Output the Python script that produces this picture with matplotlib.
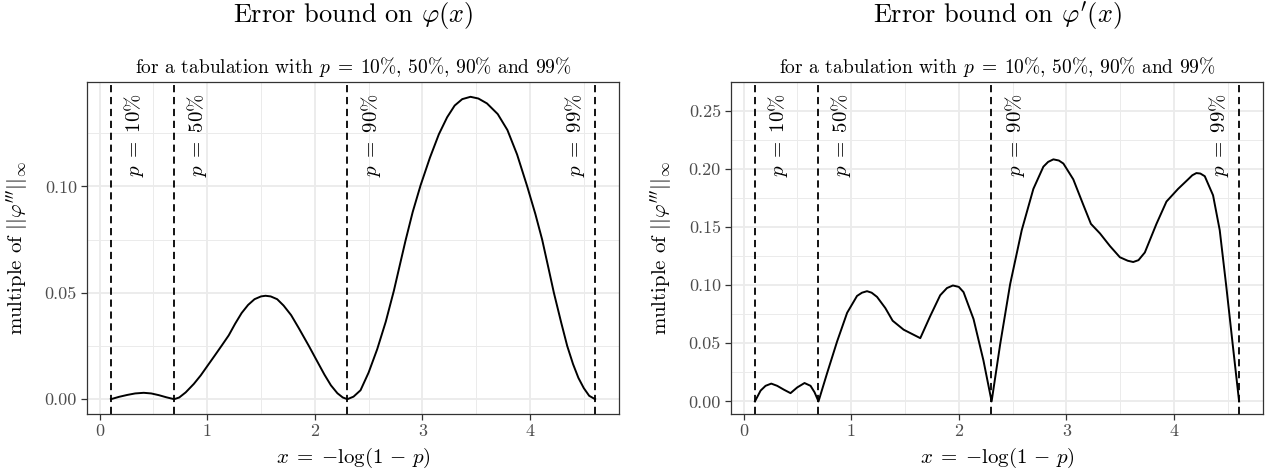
import matplotlib
matplotlib.use('Agg')
import matplotlib.pyplot as plt

# フォント (Computer Modern 風)
plt.rcParams['font.family'] = ['cmr10', 'DejaVu Serif']
plt.rcParams['mathtext.fontset'] = 'cm'
plt.rcParams['axes.formatter.use_mathtext'] = True

# 表の節点 p = 10%, 50%, 90%, 99%  ->  x = -log(1-p)
node_x = [0.105, 0.693, 2.303, 4.605]
node_labels = [r'$p\;=\;10\%$', r'$p\;=\;50\%$', r'$p\;=\;90\%$', r'$p\;=\;99\%$']

# 左: phi(x) の誤差上界
x_phi = [0.105, 0.18, 0.257, 0.33, 0.41, 0.48, 0.55, 0.62, 0.693,
         0.74, 0.80, 0.876, 0.94, 1.0, 1.07, 1.139, 1.20, 1.26, 1.32, 1.38, 1.44, 1.50,
         1.542, 1.59, 1.65, 1.71, 1.78, 1.85, 1.945, 2.02, 2.09, 2.15, 2.21, 2.26, 2.303,
         2.36, 2.425, 2.50, 2.58, 2.66, 2.735, 2.79, 2.843, 2.91, 2.983, 3.07, 3.153,
         3.23, 3.30, 3.37, 3.447, 3.52, 3.60, 3.70, 3.79, 3.88, 3.974, 4.05, 4.113,
         4.17, 4.222, 4.29, 4.346, 4.40, 4.45, 4.50, 4.55, 4.605]
y_phi = [0, 0.0011, 0.0020, 0.0027, 0.0030, 0.0027, 0.0019, 0.0009, 0,
         0.0008, 0.0032, 0.0072, 0.0112, 0.0155, 0.0205, 0.0255, 0.0300, 0.0355, 0.0405,
         0.0443, 0.0470, 0.0483,
         0.0486, 0.0483, 0.0470, 0.0440, 0.0395, 0.0335, 0.0250, 0.0180, 0.0115, 0.0065,
         0.0028, 0.0008, 0,
         0.0012, 0.0042, 0.0125, 0.0235, 0.0365, 0.0510, 0.0630, 0.0745, 0.0880, 0.1005,
         0.1135, 0.1245,
         0.1325, 0.1380, 0.1410, 0.1421, 0.1413, 0.1390, 0.1340, 0.1265, 0.1150, 0.1000,
         0.0870, 0.0750,
         0.0620, 0.0500, 0.0360, 0.0250, 0.0165, 0.0100, 0.0052, 0.0016, 0]

# 右: phi'(x) の誤差上界
x_dphi = [0.105, 0.158, 0.204, 0.257, 0.312, 0.374, 0.436, 0.498, 0.566, 0.622, 0.659, 0.696,
          0.776, 0.869, 0.962, 1.054, 1.10, 1.147, 1.19, 1.24, 1.317, 1.385, 1.487, 1.642,
          1.735, 1.827, 1.89, 1.945, 2.0, 2.044, 2.137, 2.229, 2.305,
          2.384, 2.477, 2.585, 2.693, 2.786, 2.83, 2.879, 2.93, 2.972, 3.064, 3.157, 3.228,
          3.312, 3.405, 3.497, 3.57, 3.621, 3.67, 3.729, 3.837, 3.93, 4.038, 4.131, 4.17,
          4.208, 4.245, 4.286, 4.363, 4.425, 4.487, 4.549, 4.605]
y_dphi = [0, 0.0093, 0.0134, 0.0153, 0.0134, 0.0101, 0.0071, 0.0120, 0.0158, 0.0134, 0.0079, 0,
          0.0243, 0.0516, 0.0762, 0.0907, 0.0935, 0.0948, 0.0935, 0.0899, 0.0803, 0.0694,
          0.0617, 0.0544,
          0.0735, 0.0913, 0.0975, 0.0997, 0.0985, 0.0940, 0.0708, 0.0352, 0,
          0.0489, 0.1008, 0.1473, 0.1828, 0.2019, 0.2060, 0.2082, 0.2072, 0.2046, 0.1910,
          0.1691, 0.1527,
          0.1445, 0.1336, 0.1240, 0.1210, 0.1199, 0.1215, 0.1281, 0.1527, 0.1719, 0.1828,
          0.1910, 0.1945,
          0.1964, 0.1960, 0.1937, 0.1773, 0.1473, 0.0981, 0.0462, 0]

titles = [r'Error bound on $\varphi(x)$', r"Error bound on $\varphi'(x)$"]
subtitle = r'for a tabulation with $p\;=\;10\%$, 50%, 90% and 99%'
xlabel = r'$x\;=\;{-}\log(1\,-\,p)$'
ylabel = r"multiple of $||\varphi'''||_\infty$"
x_ticks = [0, 1, 2, 3, 4]
y_ticks_left = [0.00, 0.05, 0.10]
y_ticks_right = [0.00, 0.05, 0.10, 0.15, 0.20, 0.25]

W, H = 1265, 471
fig = plt.figure(figsize=(W / 100, H / 100), dpi=100)


def draw_panel(left, right, x, y, yticks, ylim, title):
    top, bottom = 81.7, 414.3
    ax = fig.add_axes([left / W, 1 - bottom / H, (right - left) / W, (bottom - top) / H])
    ax.set_axisbelow(True)
    ax.plot(x, y, color='black', lw=1.4, zorder=3)
    for i, (xv, lab) in enumerate(zip(node_x, node_labels)):
        ax.axvline(xv, color='black', lw=1.3, ls=(0, (4, 2.6)), zorder=2)
        last = i == len(node_x) - 1
        ax.annotate(lab, xy=(xv, 1), xycoords=('data', 'axes fraction'),
                    xytext=(-6 if last else 8, -8), textcoords='offset points',
                    rotation=90, ha='right' if last else 'left', va='top',
                    fontsize=15, zorder=4)
    ax.set_xlim(0.105 - 0.225, 4.605 + 0.225)
    ax.set_ylim(*ylim)
    ax.set_xticks(x_ticks, [str(t) for t in x_ticks])
    ax.set_xticks([0.5, 1.5, 2.5, 3.5, 4.5], minor=True)
    ax.set_yticks(yticks, ['%.2f' % t for t in yticks])
    ax.set_yticks([t + 0.025 for t in yticks], minor=True)
    ax.grid(which='major', color='#EBEBEB', lw=1.3)
    ax.grid(which='minor', color='#EBEBEB', lw=0.7)
    ax.tick_params(which='major', length=4, width=0.9, color='#333333',
                   labelcolor='#4D4D4D', labelsize=13, pad=3)
    ax.tick_params(which='minor', length=0)
    for s in ax.spines.values():
        s.set_color('#333333')
        s.set_linewidth(0.9)
    cx = (left + right) / 2 / W
    fig.text(cx, 1 - 22 / H, title, ha='center', va='baseline', fontsize=19)
    fig.text(cx, 1 - 72.7 / H, subtitle, ha='center', va='baseline', fontsize=14)
    fig.text(cx, 1 - 463 / H, xlabel, ha='center', va='baseline', fontsize=15)
    fig.text((left - 69) / W, 1 - (top + bottom) / 2 / H, ylabel, rotation=90,
             ha='center', va='center', fontsize=15)
    return ax


draw_panel(86.7, 619.3, x_phi, y_phi, y_ticks_left, (-0.0071, 0.1492), titles[0])
draw_panel(730.7, 1263.3, x_dphi, y_dphi, y_ticks_right, (-0.0111, 0.2615), titles[1])

fig.savefig('out.png', dpi=100)
